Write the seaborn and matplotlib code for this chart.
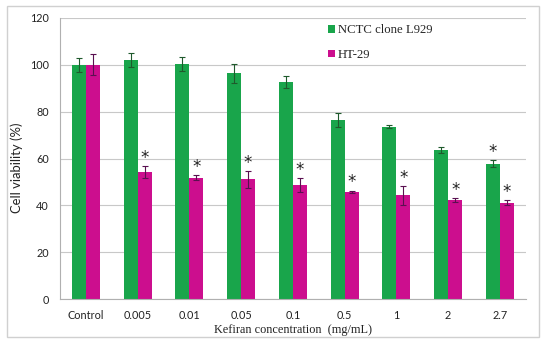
import matplotlib
matplotlib.use("Agg")
import matplotlib.pyplot as plt
import seaborn as sns
import pandas as pd
import numpy as np
from matplotlib.patches import Rectangle

categories = ["Control", "0.005", "0.01", "0.05", "0.1", "0.5", "1", "2", "2.7"]
series_names = ["NCTC clone L929", "HT-29"]
l929_values = [100.0, 102.0, 100.5, 96.3, 92.6, 76.4, 73.6, 63.8, 57.8]
l929_errors = [3.0, 3.0, 3.0, 4.0, 2.5, 3.0, 0.7, 1.3, 1.5]
ht29_values = [100.0, 54.4, 51.8, 51.1, 48.7, 45.8, 44.3, 42.3, 41.1]
ht29_errors = [4.5, 2.5, 1.0, 3.5, 3.0, 0.5, 4.0, 0.7, 1.0]
l929_star = [False, False, False, False, False, False, False, False, True]
ht29_star = [False, True, True, True, True, True, True, True, True]

colors = ["#19a54b", "#cc0e8e"]
err_colors = ["#1f5a2c", "#5a1050"]

df = pd.DataFrame({
    "conc": categories * 2,
    "val": l929_values + ht29_values,
    "cell": [series_names[0]] * len(categories) + [series_names[1]] * len(categories),
})

sns.set_style("white")
fig = plt.figure(figsize=(5.5, 3.45), dpi=100)
ax = fig.add_axes([0.109, 0.133, 0.847, 0.815])

sns.barplot(data=df, x="conc", y="val", hue="cell", palette=colors,
            width=0.54, errorbar=None, ax=ax, saturation=1, linewidth=0)

errs = [l929_errors, ht29_errors]
vals = [l929_values, ht29_values]
stars = [l929_star, ht29_star]
bar_containers = list(ax.containers)[:2]
for si, cont in enumerate(bar_containers):
    for bi, bar in enumerate(cont.patches):
        xc = bar.get_x() + bar.get_width() / 2
        ax.errorbar(xc, vals[si][bi], yerr=errs[si][bi], color=err_colors[si],
                    capsize=2, elinewidth=0.8, capthick=0.8, fmt="none", zorder=3)
        if stars[si][bi]:
            ax.text(xc, vals[si][bi] + errs[si][bi] + 3.5, "*", ha="center",
                    va="center", fontsize=12, color="#222222",
                    family="DejaVu Sans")

ax.set_ylim(0, 120)
ax.set_yticks(range(0, 121, 20))
ax.set_xlim(-0.5, len(categories) - 0.5)
ax.yaxis.grid(True, color="#c8c8c8", linewidth=0.8)
ax.set_axisbelow(True)
for s in ["top", "right"]:
    ax.spines[s].set_visible(False)
ax.spines["left"].set_color("#b0b0b0")
ax.spines["bottom"].set_color("#b0b0b0")
ax.tick_params(axis="x", length=0, labelsize=7.8, colors="#222222", pad=8)
ax.tick_params(axis="y", length=0, labelsize=7.8, colors="#222222", pad=8)
for lab in ax.get_xticklabels() + ax.get_yticklabels():
    lab.set_family("Lato")

ax.set_ylabel("Cell viability (%)", family="Lato", fontsize=9.4, color="#222222")
ax.yaxis.set_label_coords(-0.079, 0.466)
ax.set_xlabel("Kefiran concentration  (mg/mL)", family="Liberation Serif",
              fontsize=8.8, color="#222222", labelpad=2)

leg = ax.legend(loc="upper left", bbox_to_anchor=(0.55, 1.018), frameon=False,
                prop={"family": "Liberation Serif", "size": 9.2},
                handlelength=0.55, handleheight=0.55, handletextpad=0.25,
                labelspacing=1.0)

fig.patches.append(Rectangle((0.013, 0.023), 0.967, 0.96, transform=fig.transFigure,
                             fill=False, edgecolor="#d0d0d0", linewidth=1))

fig.savefig("out.png", dpi=100)
